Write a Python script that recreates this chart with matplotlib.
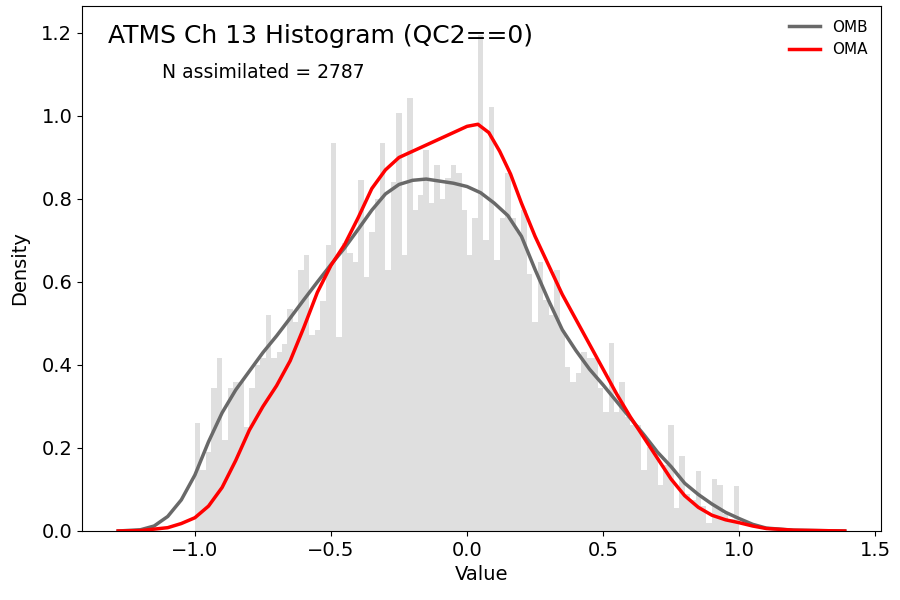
"""
ATMS channel 13 O-B / O-A histogram with density curves (QC2==0).
"""

import matplotlib

matplotlib.use("Agg")
import matplotlib.pyplot as plt
import numpy as np

OUTPUT_PLOT = "out.png"

# Histogram: 100 bins of width 0.02 from -1.0 to 1.0 (density values).
BIN_START = -1.0
BIN_WIDTH = 0.02
hist_density = [
    0.26, 0.147, 0.19, 0.344, 0.416, 0.219, 0.344, 0.36, 0.36, 0.25,
    0.344, 0.40, 0.416, 0.52, 0.416, 0.432, 0.45, 0.534, 0.504, 0.629,
    0.665, 0.472, 0.484, 0.553, 0.69, 0.934, 0.468, 0.693, 0.67, 0.649,
    0.846, 0.613, 0.72, 0.80, 0.934, 0.629, 0.84, 1.006, 0.665, 1.043,
    0.773, 0.81, 0.918, 0.79, 0.882, 0.80, 0.85, 0.882, 0.862, 0.773,
    0.665, 0.754, 1.195, 0.70, 1.022, 0.653, 0.754, 0.862, 0.754, 0.72,
    0.773, 0.62, 0.504, 0.649, 0.557, 0.52, 0.629, 0.484, 0.396, 0.36,
    0.38, 0.432, 0.416, 0.416, 0.344, 0.287, 0.452, 0.287, 0.36, 0.275,
    0.255, 0.255, 0.147, 0.203, 0.187, 0.11, 0.16, 0.255, 0.055, 0.18,
    0.09, 0.075, 0.145, 0.06, 0.02, 0.125, 0.11, 0.04, 0.03, 0.108,
]

# Density curve for OMB.
omb_x = [
    -1.282, -1.2, -1.15, -1.1, -1.05, -1.0, -0.95, -0.9, -0.85, -0.8,
    -0.75, -0.7, -0.65, -0.6, -0.55, -0.5, -0.45, -0.4, -0.35, -0.3,
    -0.25, -0.2, -0.15, -0.1, -0.05, 0.0, 0.05, 0.1, 0.15, 0.2,
    0.25, 0.3, 0.35, 0.4, 0.45, 0.5, 0.55, 0.6, 0.65, 0.7,
    0.75, 0.8, 0.85, 0.9, 0.95, 1.0, 1.05, 1.1, 1.2, 1.388,
]
omb_y = [
    0.0, 0.003, 0.012, 0.035, 0.075, 0.135, 0.215, 0.285, 0.34, 0.385,
    0.43, 0.47, 0.513, 0.557, 0.6, 0.642, 0.682, 0.727, 0.773, 0.812,
    0.835, 0.845, 0.848, 0.843, 0.838, 0.83, 0.815, 0.79, 0.76, 0.71,
    0.63, 0.555, 0.485, 0.435, 0.39, 0.352, 0.312, 0.272, 0.232, 0.19,
    0.155, 0.115, 0.088, 0.065, 0.045, 0.03, 0.016, 0.007, 0.002, 0.0,
]

# Density curve for OMA.
oma_x = [
    -1.282, -1.2, -1.1, -1.05, -1.0, -0.95, -0.9, -0.85, -0.8, -0.75,
    -0.7, -0.65, -0.6, -0.55, -0.5, -0.45, -0.4, -0.35, -0.3, -0.25,
    -0.2, -0.15, -0.1, -0.05, 0.0, 0.04, 0.08, 0.12, 0.16, 0.2,
    0.25, 0.3, 0.35, 0.4, 0.45, 0.5, 0.55, 0.6, 0.65, 0.7,
    0.75, 0.8, 0.85, 0.9, 0.95, 1.0, 1.05, 1.1, 1.2, 1.388,
]
oma_y = [
    0.0, 0.001, 0.008, 0.018, 0.032, 0.06, 0.105, 0.17, 0.243, 0.3,
    0.35, 0.41, 0.49, 0.575, 0.64, 0.69, 0.755, 0.825, 0.87, 0.9,
    0.915, 0.93, 0.945, 0.96, 0.975, 0.98, 0.96, 0.915, 0.86, 0.79,
    0.71, 0.64, 0.57, 0.51, 0.45, 0.39, 0.33, 0.275, 0.225, 0.175,
    0.125, 0.085, 0.057, 0.038, 0.027, 0.02, 0.012, 0.006, 0.002, 0.0,
]

n_assimilated = 2787

bin_lefts = BIN_START + BIN_WIDTH * np.arange(len(hist_density))

fig = plt.figure(figsize=(9, 6), dpi=100)
ax = fig.add_axes([0.0911, 0.115, 0.888, 0.875])

ax.bar(bin_lefts, hist_density, width=BIN_WIDTH, align="edge",
       color="#dfdfdf", linewidth=0)
ax.plot(omb_x, omb_y, color="dimgray", lw=2.5, label="OMB")
ax.plot(oma_x, oma_y, color="red", lw=2.5, label="OMA")

ax.set_xlim(-1.415, 1.522)
ax.set_ylim(0, 1.265)
ax.set_xticks([-1.0, -0.5, 0.0, 0.5, 1.0, 1.5])
ax.set_yticks([0.0, 0.2, 0.4, 0.6, 0.8, 1.0, 1.2])
ax.tick_params(labelsize=14)
ax.set_xlabel("Value", fontsize=14)
ax.set_ylabel("Density", fontsize=14, labelpad=9)

ax.text(0.0325, 0.965, "ATMS Ch 13 Histogram (QC2==0)", transform=ax.transAxes,
        fontsize=18, ha="left", va="top")
ax.text(0.10, 0.874, f"N assimilated = {n_assimilated}", transform=ax.transAxes,
        fontsize=13.5, ha="left", va="center")
ax.legend(loc="upper right", frameon=False, fontsize=11)

fig.savefig(OUTPUT_PLOT)
